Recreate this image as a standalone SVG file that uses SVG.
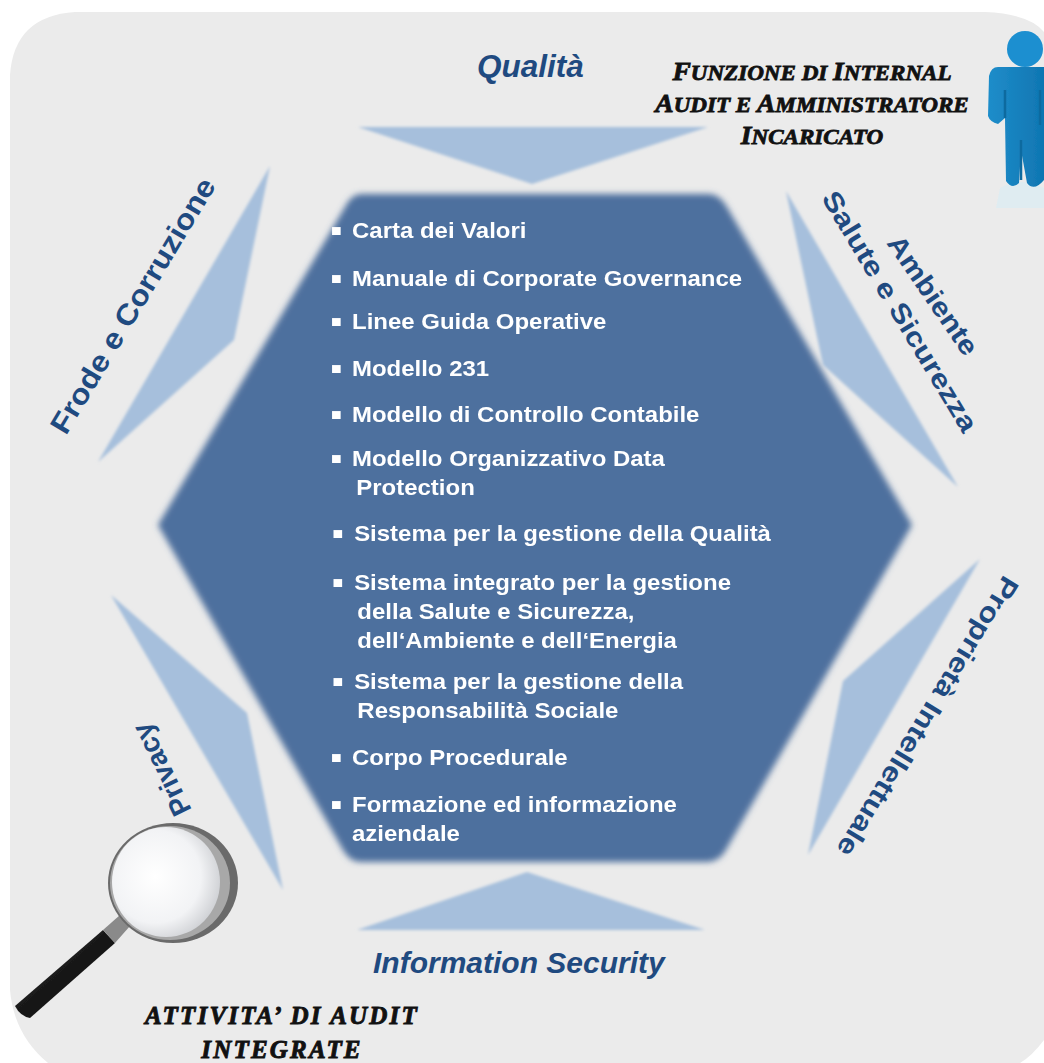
<svg xmlns="http://www.w3.org/2000/svg" width="1044" height="1063" viewBox="0 0 1044 1063">
<style>
.w{font:bold 22.3px "Liberation Sans",Arial,sans-serif;fill:#fff}
.w .p{font-size:32px}
.l{font:italic bold 30px "Liberation Sans",Arial,sans-serif;fill:#1f4a80}
.r{font:bold 27px "Liberation Sans",Arial,sans-serif;fill:#1f4a80}
.s{font:italic bold 21px "Liberation Serif","Times New Roman",serif;fill:#111;stroke:#111;stroke-width:.8;text-anchor:middle}
.s .c{font-size:25px}
.a{font:italic bold 25px "Liberation Serif","Times New Roman",serif;fill:#111;stroke:#111;stroke-width:.9;text-anchor:middle;letter-spacing:2.2px}
.t{fill:#a6bfdc;filter:url(#b2)}
</style>
<defs>
<filter id="b2" x="-10%" y="-10%" width="120%" height="120%"><feGaussianBlur stdDeviation="1.8"/></filter>
<filter id="b5" x="-5%" y="-5%" width="110%" height="110%"><feGaussianBlur stdDeviation="3.2"/></filter>
<filter id="b1" x="-5%" y="-5%" width="110%" height="110%"><feGaussianBlur stdDeviation=".5"/></filter>
<linearGradient id="hand" x1="0" y1="0" x2="1" y2="1"><stop offset="0" stop-color="#777"/><stop offset=".45" stop-color="#1a1a1a"/><stop offset="1" stop-color="#000"/></linearGradient>
<radialGradient id="lens" cx=".4" cy=".45" r=".65"><stop offset="0" stop-color="#fff"/><stop offset=".65" stop-color="#f2f3f5"/><stop offset="1" stop-color="#c9cbcf"/></radialGradient>
<linearGradient id="body" x1="0" y1="0" x2="1" y2="0"><stop offset="0" stop-color="#1f8dca"/><stop offset="1" stop-color="#0f76b2"/></linearGradient>
</defs>
<rect width="1044" height="1063" fill="#fff"/>
<path id="background" d="M75 12H985Q1030 14 1044 32V1040Q1032 1056 1020 1063H48Q14 1035 10 990V75Q14 16 75 12Z" fill="#ebebeb"/>
<g id="hexagon">
<path d="M362 194H708Q720 194 727 207L912 525L727 848Q720 862 706 862H360Q350 862 343 850L158 525L345 207Q351 194 362 194Z" fill="#4d6f9e" filter="url(#b5)"/>
<g class="w" transform="translate(352 0) scale(1.075 1) translate(-352 0)" filter="url(#b1)">
<text class="p" x="331.5" y="241">▪</text><text x="352" y="238">Carta dei Valori</text>
<text class="p" x="331.5" y="289">▪</text><text x="352" y="286">Manuale di Corporate Governance</text>
<text class="p" x="331.5" y="332">▪</text><text x="352" y="329">Linee Guida Operative</text>
<text class="p" x="331.5" y="379">▪</text><text x="352" y="376">Modello 231</text>
<text class="p" x="331.5" y="425">▪</text><text x="352" y="422">Modello di Controllo Contabile</text>
<text class="p" x="331.5" y="469">▪</text><text x="352" y="466">Modello Organizzativo Data</text>
<text x="356" y="495">Protection</text>
<text class="p" x="333" y="544">▪</text><text x="354" y="541">Sistema per la gestione della Qualità</text>
<text class="p" x="333" y="593">▪</text><text x="354" y="590">Sistema integrato per la gestione</text>
<text x="357" y="619">della Salute e Sicurezza,</text>
<text x="357" y="648">dell‘Ambiente e dell‘Energia</text>
<text class="p" x="333" y="692">▪</text><text x="354" y="689">Sistema per la gestione della</text>
<text x="357" y="718">Responsabilità Sociale</text>
<text class="p" x="331.5" y="768">▪</text><text x="352" y="765">Corpo Procedurale</text>
<text class="p" x="331.5" y="815">▪</text><text x="352" y="812">Formazione ed informazione</text>
<text x="352" y="841">aziendale</text>
</g>
</g>
<g id="quality"><path class="t" d="M358 127H708L532 184Z"/><text class="l" x="477" y="77" style="font-size:31.5px">Qualità</text></g>
<g id="security"><path class="t" d="M357 930H705L527 872Z"/><text class="l" x="373" y="973">Information Security</text></g>
<g id="ambiente"><path class="t" d="M786 191L823 365L958 487Z"/>
<text class="r" transform="translate(886 243) rotate(55.6) scale(1.13 1)">Ambiente</text>
<text class="r" transform="translate(821 198) rotate(59) scale(1.17 1)">Salute e Sicurezza</text></g>
<g id="proprieta"><path class="t" d="M980 559L843 681L808 855Z"/>
<text class="r" transform="translate(1004 574) rotate(121.4) scale(1.17 1)">Proprietà Intellettuale</text></g>
<g id="frode"><path class="t" d="M270 166L234 340L98 462Z"/>
<text class="r" style="font-size:29px" transform="translate(66 436) rotate(-59) scale(1.1 1)">Frode e Corruzione</text></g>
<g id="privacy"><path class="t" d="M111 595L247 713L283 890Z"/>
<text class="r" style="font-size:28px" transform="translate(192 810) rotate(244)">Privacy</text></g>
<g id="audit-function">
<text class="s" transform="translate(812 0) scale(1.1 1) translate(-812 0)"><tspan x="812" y="80"><tspan class="c">F</tspan>UNZIONE DI <tspan class="c">I</tspan>NTERNAL</tspan><tspan x="812" y="112"><tspan class="c">A</tspan>UDIT E <tspan class="c">A</tspan>MMINISTRATORE</tspan><tspan x="812" y="144"><tspan class="c">I</tspan>NCARICATO</tspan></text>
<g id="person" filter="url(#b1)">
<path d="M1000 188Q1022 176 1044 188V208H996Z" fill="#dcecf3" opacity=".8"/>
<circle cx="1025" cy="49" r="18" fill="#1c8fd0"/>
<path d="M998 67H1044V180Q1034 192 1027 183L1021 150L1019 183Q1012 190 1006 181L1005 118L998 124Q990 122 988 116L989 76Q991 67 998 67Z" fill="url(#body)"/>
<path d="M1005 90V118M1040 90V125M1021 140V180" stroke="#0d6a9f" stroke-width="2.5" fill="none"/>
</g>
</g>
<g id="magnifier" filter="url(#b1)">
<path d="M15 1006L103 930L115 943L30 1018Q20 1016 15 1006Z" fill="url(#hand)"/>
<path d="M103 930L120 915L130 926L115 943Z" fill="#8a8a8a"/>
<ellipse cx="173" cy="883" rx="65" ry="60" fill="#6a6a6a"/>
<ellipse cx="170" cy="883" rx="60" ry="57" fill="#a8a8a8"/>
<ellipse cx="166" cy="882" rx="54" ry="55" fill="url(#lens)"/>
</g>
<g id="audit-activities"><text class="a"><tspan x="282" y="1024">ATTIVITA’ DI AUDIT</tspan><tspan x="282" y="1058">INTEGRATE</tspan></text></g>
</svg>
